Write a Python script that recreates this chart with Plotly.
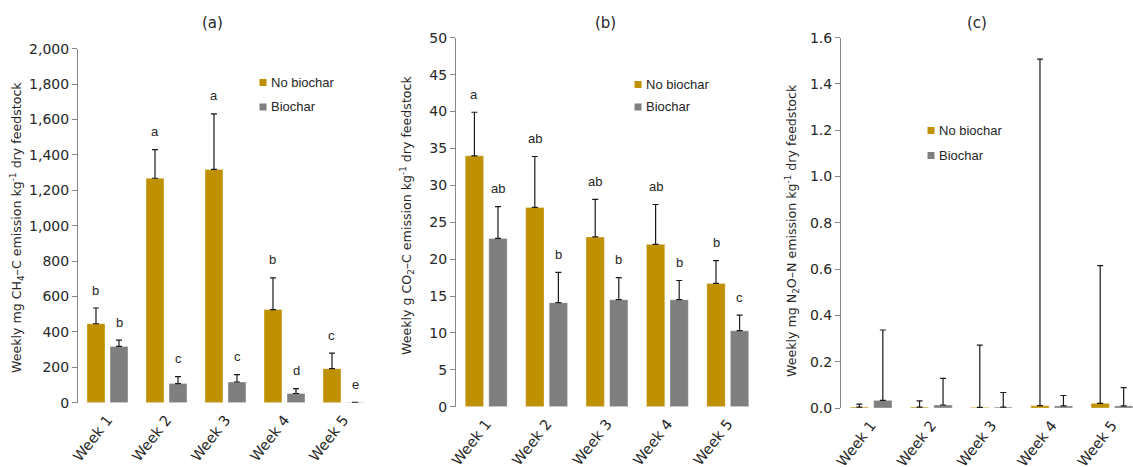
import plotly.graph_objects as go

W, H = 1133, 467

weeks = ["Week 1", "Week 2", "Week 3", "Week 4", "Week 5"]

# (a) CH4-C, mg per kg dry feedstock (mean and upper error)
ch4_no_biochar = [446, 1268, 1318, 526, 192]
ch4_no_biochar_err = [89, 162, 314, 179, 88]
ch4_biochar = [318, 108, 117, 52, 2]
ch4_biochar_err = [35, 39, 42, 28, 0]
ch4_letters_no = ["b", "a", "a", "b", "c"]
ch4_letters_bc = ["b", "c", "c", "d", "e"]

# (b) CO2-C, g per kg dry feedstock
co2_no_biochar = [34.0, 27.0, 23.0, 22.0, 16.7]
co2_no_biochar_err = [5.9, 6.9, 5.1, 5.4, 3.1]
co2_biochar = [22.8, 14.1, 14.5, 14.5, 10.3]
co2_biochar_err = [4.3, 4.1, 3.0, 2.6, 2.1]
co2_letters_no = ["a", "ab", "ab", "ab", "b"]
co2_letters_bc = ["ab", "b", "b", "b", "c"]

# (c) N2O-N, mg per kg dry feedstock
n2o_no_biochar = [0.004, 0.004, 0.003, 0.010, 0.020]
n2o_no_biochar_err = [0.013, 0.027, 0.269, 1.497, 0.595]
n2o_biochar = [0.033, 0.013, 0.004, 0.009, 0.009]
n2o_biochar_err = [0.304, 0.115, 0.063, 0.045, 0.079]

GOLD = "#BF9000"
GREY = "#7F7F7F"
AXIS = "#868686"
TEXT = "#262626"
TICK_FONT = dict(family="DejaVu Sans", size=14, color=TEXT)
XTICK_FONT = dict(family="DejaVu Sans", size=14.5, color=TEXT)
LABEL_FONT = dict(family="Liberation Sans, Arial", size=13, color=TEXT)
BARGAP = 0.22


def fx(px):
    return px / W


def fy(py):
    return 1 - py / H


panels = [
    dict(key="", tag="(a)", title_x=212,
         xdom=(78, 373), ydom=(402.7, 48.7), yrange=[0, 2000], xrange=[-0.5, 4.5],
         dtick=200, fmt=",d",
         ytitle="Weekly mg CH<sub>4</sub>–C emission kg<sup>-1</sup> dry feedstock",
         ytitle_pos=(17, 228),
         series=[(ch4_no_biochar, ch4_no_biochar_err, ch4_letters_no),
                 (ch4_biochar, ch4_biochar_err, ch4_letters_bc)],
         legend=(259.5, 82.5, 107)),
    dict(key="2", tag="(b)", title_x=605,
         xdom=(456, 758), ydom=(406.7, 37.7), yrange=[0, 50], xrange=[-0.5, 4.5],
         dtick=5, fmt="d",
         ytitle="Weekly g CO<sub>2</sub>–C emission kg<sup>-1</sup> dry feedstock",
         ytitle_pos=(407, 216),
         series=[(co2_no_biochar, co2_no_biochar_err, co2_letters_no),
                 (co2_biochar, co2_biochar_err, co2_letters_bc)],
         legend=(634.5, 84.5, 107)),
    dict(key="3", tag="(c)", title_x=977,
         xdom=(841, 1133), ydom=(408, 37.7), yrange=[0, 1.6], xrange=[-0.5, 4.35],
         dtick=0.2, fmt=".1f",
         ytitle="Weekly mg N<sub>2</sub>O–N emission kg<sup>-1</sup> dry feedstock",
         ytitle_pos=(792, 231),
         series=[(n2o_no_biochar, n2o_no_biochar_err, None),
                 (n2o_biochar, n2o_biochar_err, None)],
         legend=(927.5, 130.5, 155.5)),
]

names = ["No biochar", "Biochar"]
colors = [GOLD, GREY]

fig = go.Figure()
annotations = []
shapes = []
layout = {}

half_slot = (1 - BARGAP) / 4  # offset of each bar centre from its category centre

for p in panels:
    xa, ya = "x" + p["key"], "y" + p["key"]
    for i, (vals, errs, letters) in enumerate(p["series"]):
        fig.add_trace(go.Bar(
            x=weeks, y=vals, name=names[i], xaxis=xa, yaxis=ya,
            marker=dict(color=colors[i], line=dict(color="rgba(255,255,255,0.35)", width=1)),
            error_y=dict(type="data", array=errs, arrayminus=[0] * len(errs),
                         symmetric=False, color="#1a1a1a", thickness=1.2, width=3),
            showlegend=False, cliponaxis=True,
        ))
        if letters:
            sign = -1 if i == 0 else 1
            for k, (v, e, t) in enumerate(zip(vals, errs, letters)):
                annotations.append(dict(
                    x=k + sign * half_slot, y=v + e, xref=xa, yref=ya, text=t,
                    showarrow=False, yanchor="middle", yshift=18,
                    font=LABEL_FONT))

    layout["xaxis" + p["key"]] = dict(
        domain=[fx(p["xdom"][0]), fx(p["xdom"][1])], anchor=ya,
        type="category", range=p["xrange"], showline=False,
        ticks="outside", ticklen=2, tickcolor="rgba(0,0,0,0)",
        tickangle=-52, tickfont=XTICK_FONT, showgrid=False, zeroline=False,
        automargin=False, fixedrange=True)
    layout["yaxis" + p["key"]] = dict(
        domain=[fy(p["ydom"][0]), fy(p["ydom"][1])], anchor=xa,
        range=p["yrange"], dtick=p["dtick"], tick0=0, tickformat=p["fmt"],
        showline=True, linecolor=AXIS, linewidth=1,
        ticks="outside", ticklen=5, tickcolor=AXIS, tickwidth=1,
        tickfont=TICK_FONT, showgrid=False, zeroline=False,
        automargin=False, fixedrange=True)

    # panel tag
    annotations.append(dict(x=fx(p["title_x"]), y=fy(22.5), xref="paper", yref="paper",
                            text=p["tag"], showarrow=False, xanchor="center",
                            yanchor="middle",
                            font=dict(family="DejaVu Sans", size=15, color=TEXT)))
    # y-axis title
    tx, ty = p["ytitle_pos"]
    annotations.append(dict(x=fx(tx), y=fy(ty), xref="paper", yref="paper",
                            text=p["ytitle"], textangle=-90, showarrow=False,
                            xanchor="center", yanchor="middle",
                            font=dict(family="DejaVu Sans", size=12.6, color=TEXT)))
    # legend block
    lx, ly1, ly2 = p["legend"]
    for j, ly in enumerate((ly1, ly2)):
        shapes.append(dict(type="rect", xref="paper", yref="paper",
                           x0=fx(lx), x1=fx(lx + 7), y0=fy(ly + 3.5), y1=fy(ly - 3.5),
                           fillcolor=colors[j], line=dict(width=0)))
        annotations.append(dict(x=fx(lx + 9.5), y=fy(ly), xref="paper", yref="paper",
                                text=names[j], showarrow=False, xanchor="left",
                                yanchor="middle", font=LABEL_FONT))

fig.update_layout(
    width=W, height=H, autosize=False,
    margin=dict(l=0, r=0, t=0, b=0, pad=0, autoexpand=False),
    paper_bgcolor="white", plot_bgcolor="white",
    barmode="group", bargap=BARGAP, bargroupgap=BARGAP,
    annotations=annotations, shapes=shapes,
    **layout,
)

fig.write_html("out.html", config={"displayModeBar": False})
